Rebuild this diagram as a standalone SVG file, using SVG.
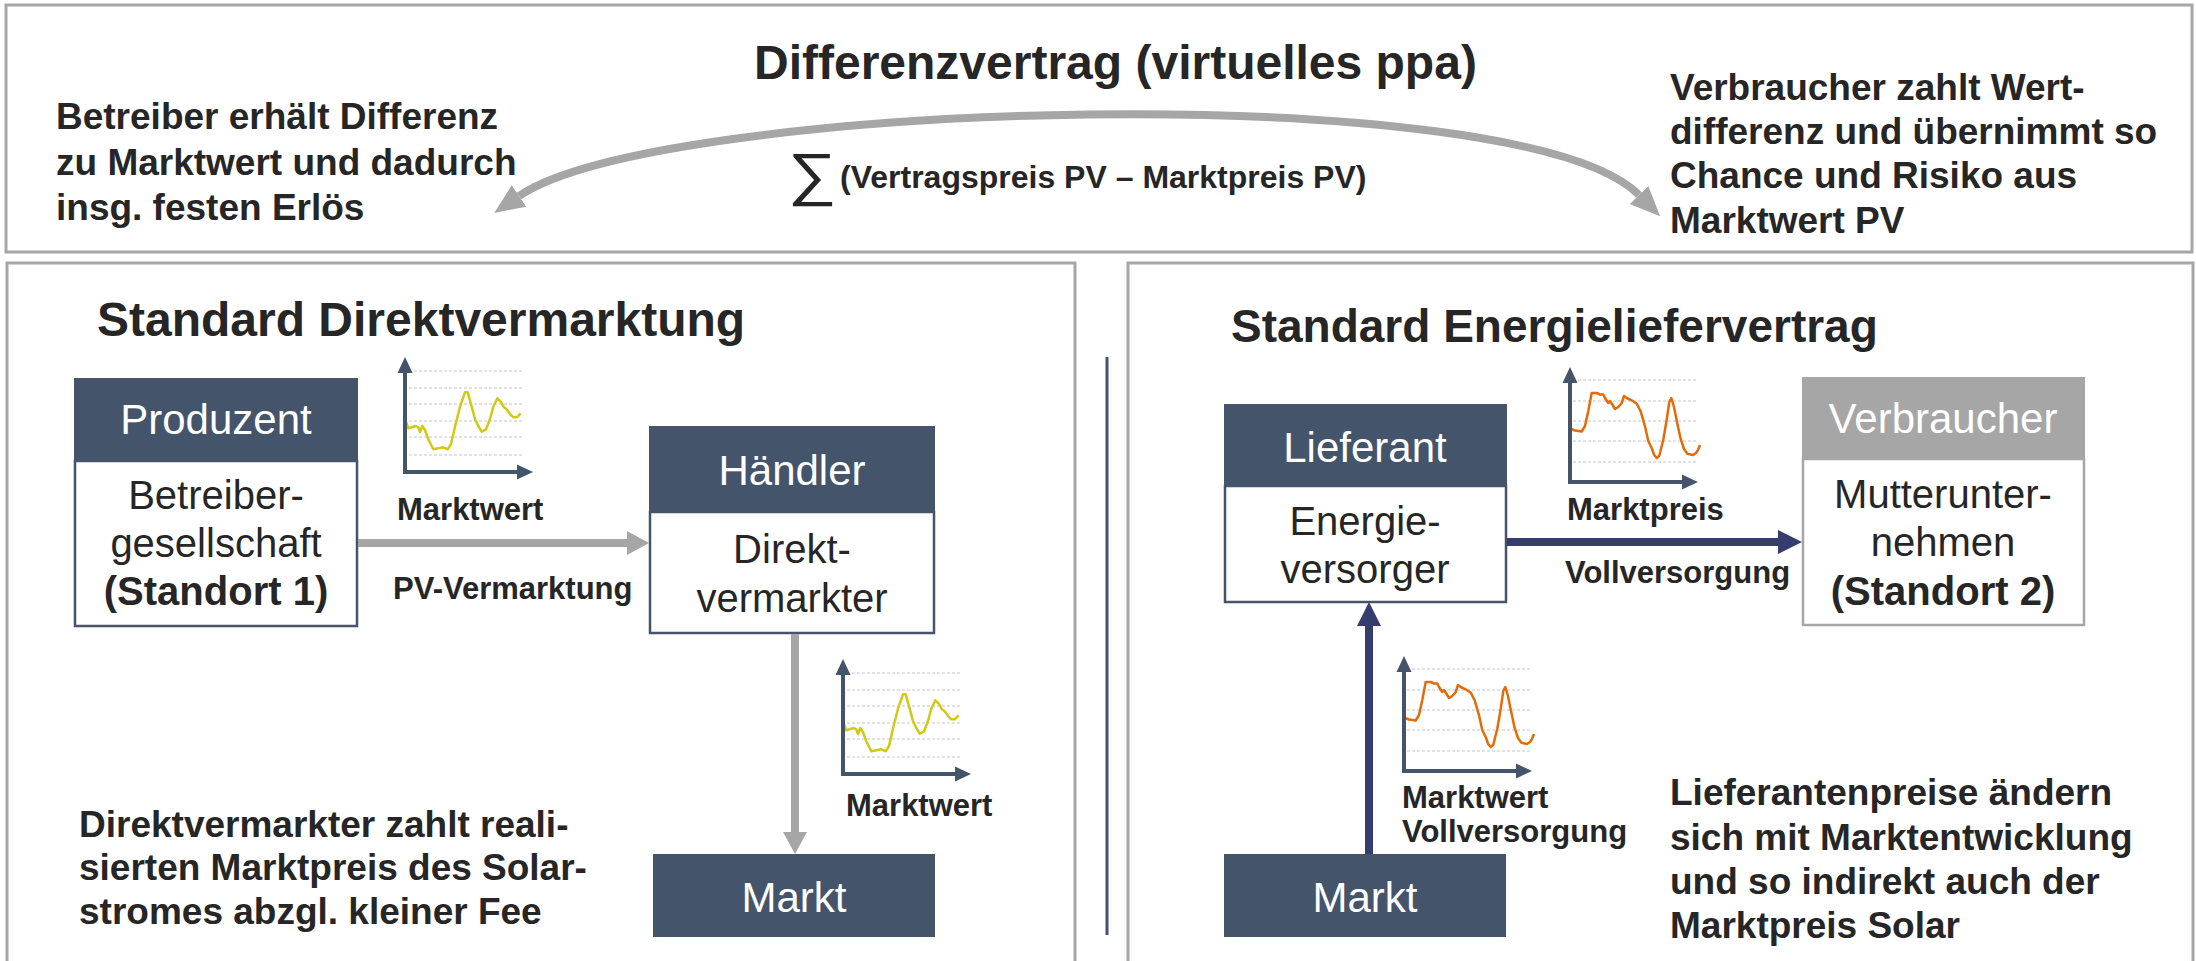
<svg xmlns="http://www.w3.org/2000/svg" xmlns:xlink="http://www.w3.org/1999/xlink" width="2196" height="961" viewBox="0 0 2196 961">
<style>
text{font-family:"Liberation Sans",Arial,sans-serif;fill:#262626}
.b{font-weight:bold}
.big{font-size:37px;font-weight:bold}
.lbl{font-size:31px;font-weight:bold}
.hd{font-size:42px;fill:#ffffff;text-anchor:middle}
.bd{font-size:40px;text-anchor:middle}
.sec{fill:#ffffff;stroke:#a6a6a6;stroke-width:3}
.hdr{fill:#44546a}
.hdrg{fill:#a6a6a6}
.body{fill:#ffffff;stroke:#44546a;stroke-width:2.5}
.bodyg{fill:#ffffff;stroke:#a6a6a6;stroke-width:2.5}
.grid{stroke:#d9d9d9;stroke-width:1.5;stroke-dasharray:3 2}
.axis{fill:none;stroke:#44546a;stroke-width:4}
.ax{fill:#44546a}
.gray{fill:none;stroke:#a6a6a6;stroke-width:8}
.navy{fill:none;stroke:#363c6e;stroke-width:8}
</style>
<defs>
<marker id="mGray" markerUnits="userSpaceOnUse" markerWidth="22" markerHeight="24" refX="0" refY="12" orient="auto" viewBox="0 0 22 24"><path d="M0,0 L22,12 L0,24 Z" fill="#a6a6a6"/></marker>
<marker id="mNavy" markerUnits="userSpaceOnUse" markerWidth="24" markerHeight="24" refX="0" refY="12" orient="auto" viewBox="0 0 24 24"><path d="M0,0 L24,12 L0,24 Z" fill="#363c6e"/></marker>
<marker id="mArc" markerUnits="userSpaceOnUse" markerWidth="30" markerHeight="26" refX="0" refY="13" orient="auto-start-reverse" viewBox="0 0 30 26"><path d="M0,0 L30,13 L0,26 Z" fill="#a6a6a6"/></marker>
<g id="axes">
<polyline class="axis" points="0,-100 0,0 114,0"/>
<polygon class="ax" points="0,-115 -7.5,-99 7.5,-99"/>
<polygon class="ax" points="128,0 112,-7.5 112,7.5"/>
</g>
<g id="chartY">
<g class="grid"><line x1="4" y1="-101" x2="118" y2="-101"/><line x1="4" y1="-84" x2="118" y2="-84"/><line x1="4" y1="-68" x2="118" y2="-68"/><line x1="4" y1="-51" x2="118" y2="-51"/><line x1="4" y1="-35" x2="118" y2="-35"/><line x1="4" y1="-17" x2="118" y2="-17"/></g>
<polyline fill="none" stroke="#d2c914" stroke-width="2.5" stroke-linejoin="round" points="1,-50 3.3,-43.7 6.7,-44.7 10.7,-46 13.3,-44.7 15,-40 17.3,-46 20,-42 23.3,-32.7 28.3,-22.7 33.3,-23.7 38.3,-24.7 42.7,-22.7 46,-28 50,-45.3 55,-65.3 60,-79.7 62.7,-79.7 66.7,-65.3 70,-52.7 73.3,-46 76.7,-40.3 81,-42.7 85,-53 88.3,-65.3 92.3,-73.7 95.7,-70.3 99,-64.7 101.7,-62.7 105,-58 108.3,-54.7 111.7,-54.7 115.7,-58.7"/>
<use xlink:href="#axes"/>
</g>
<g id="chartO">
<g class="grid"><line x1="3" y1="-102" x2="126" y2="-102"/><line x1="3" y1="-81" x2="126" y2="-81"/><line x1="3" y1="-61" x2="126" y2="-61"/><line x1="3" y1="-41" x2="126" y2="-41"/><line x1="3" y1="-20" x2="126" y2="-20"/></g>
<polyline fill="none" stroke="#e36c0a" stroke-width="2.5" stroke-linejoin="round" points="1,-53 5,-51.5 11.7,-50.5 15,-56 18.3,-71 21.7,-89 26.7,-89 30,-87.5 33.3,-87.5 35,-84 38.3,-79 40,-81 41.7,-78.5 45,-73 48.3,-75 51.7,-79 54,-86 56.7,-84 61.7,-81.7 66.7,-78.3 70.7,-70.7 75,-55.7 78.3,-40.7 81.7,-34 84,-27.3 86.7,-24 89.3,-26.3 93.3,-42.3 96.7,-62.3 99.3,-80 101.3,-84 104,-75 107,-60 110.6,-43.3 114,-33 117.4,-28.3 123,-27 126,-29 128,-32 130,-37"/>
<use xlink:href="#axes"/>
</g>
</defs>
<rect width="2196" height="961" fill="#ffffff"/>

<!-- section frames -->
<g id="frames">
<rect class="sec" x="6" y="5" width="2186" height="247"/>
<rect class="sec" x="7" y="263" width="1068" height="720"/>
<rect class="sec" x="1128" y="263" width="1065" height="720"/>
<line x1="1107" y1="357" x2="1107" y2="935" stroke="#44546a" stroke-width="3"/>
</g>

<!-- top: contract for difference -->
<g id="top">
<text class="b" x="754" y="79" font-size="48">Differenzvertrag (virtuelles ppa)</text>
<text class="big" x="56" y="129">Betreiber erhält Differenz</text>
<text class="big" x="56" y="175">zu Marktwert und dadurch</text>
<text class="big" x="56" y="220">insg. festen Erlös</text>
<text class="big" x="1670" y="100">Verbraucher zahlt Wert-</text>
<text class="big" x="1670" y="144">differenz und übernimmt so</text>
<text class="big" x="1670" y="188">Chance und Risiko aus</text>
<text class="big" x="1670" y="233">Marktwert PV</text>
<text transform="translate(788,194) scale(1.18,1)" x="0" y="0" font-size="58">∑</text>
<text class="b" x="840" y="188" font-size="32">(Vertragspreis PV – Marktpreis PV)</text>
</g>

<!-- section titles -->
<text class="b" x="97" y="336" font-size="48">Standard Direktvermarktung</text>
<text class="b" x="1231" y="342" font-size="46">Standard Energieliefervertrag</text>

<!-- nodes left -->
<g id="produzent">
<rect class="body" x="75" y="461" width="282" height="165"/>
<rect class="hdr" x="74" y="378" width="284" height="84"/>
<text class="hd" x="216" y="434">Produzent</text>
<text class="bd" x="216" y="509">Betreiber-</text>
<text class="bd" x="216" y="557">gesellschaft</text>
<text class="bd b" x="216" y="605">(Standort 1)</text>
</g>
<g id="haendler">
<rect class="body" x="650" y="512" width="284" height="121"/>
<rect class="hdr" x="649" y="426" width="286" height="87"/>
<text class="hd" x="792" y="485">Händler</text>
<text class="bd" x="792" y="563">Direkt-</text>
<text class="bd" x="792" y="612">vermarkter</text>
</g>
<g id="markt-links">
<rect class="hdr" x="653" y="854" width="282" height="83"/>
<text class="hd" x="794" y="912">Markt</text>
</g>

<!-- nodes right -->
<g id="lieferant">
<rect class="body" x="1225" y="486" width="281" height="116"/>
<rect class="hdr" x="1224" y="404" width="283" height="83"/>
<text class="hd" x="1365" y="462">Lieferant</text>
<text class="bd" x="1365" y="535">Energie-</text>
<text class="bd" x="1365" y="583">versorger</text>
</g>
<g id="verbraucher">
<rect class="bodyg" x="1803" y="459" width="281" height="166"/>
<rect class="hdrg" x="1802" y="377" width="283" height="83"/>
<text class="hd" x="1943" y="433">Verbraucher</text>
<text class="bd" x="1943" y="508">Mutterunter-</text>
<text class="bd" x="1943" y="556">nehmen</text>
<text class="bd b" x="1943" y="605">(Standort 2)</text>
</g>
<g id="markt-rechts">
<rect class="hdr" x="1224" y="854" width="282" height="83"/>
<text class="hd" x="1365" y="912">Markt</text>
</g>

<!-- connectors -->
<g id="connectors">
<path class="gray" d="M519,196 C660,100 1520,75 1639,195" stroke-width="7" marker-start="url(#mArc)" marker-end="url(#mArc)"/>
<path class="gray" d="M358,543 H627" marker-end="url(#mGray)"/>
<path class="gray" d="M795,634 V832" marker-end="url(#mGray)"/>
<path class="navy" d="M1507,542 H1778" marker-end="url(#mNavy)"/>
<path class="navy" d="M1369,854 V626" marker-end="url(#mNavy)"/>
</g>

<!-- charts -->
<g id="charts">
<use xlink:href="#chartY" x="405" y="472"/>
<use xlink:href="#chartY" x="843" y="774"/>
<use xlink:href="#chartO" x="1570" y="482"/>
<use xlink:href="#chartO" x="1404" y="771"/>
</g>

<!-- connector labels -->
<g id="labels">
<text class="lbl" x="397" y="520">Marktwert</text>
<text class="lbl" x="393" y="599">PV-Vermarktung</text>
<text class="lbl" x="846" y="816">Marktwert</text>
<text class="lbl" x="1567" y="520">Marktpreis</text>
<text class="lbl" x="1565" y="583">Vollversorgung</text>
<text class="lbl" x="1402" y="808">Marktwert</text>
<text class="lbl" x="1402" y="842">Vollversorgung</text>
</g>

<!-- notes -->
<g id="notes">
<text class="big" x="79" y="837">Direktvermarkter zahlt reali-</text>
<text class="big" x="79" y="880">sierten Marktpreis des Solar-</text>
<text class="big" x="79" y="924">stromes abzgl. kleiner Fee</text>
<text class="big" x="1670" y="805">Lieferantenpreise ändern</text>
<text class="big" x="1670" y="850">sich mit Marktentwicklung</text>
<text class="big" x="1670" y="894">und so indirekt auch der</text>
<text class="big" x="1670" y="938">Marktpreis Solar</text>
</g>
</svg>
